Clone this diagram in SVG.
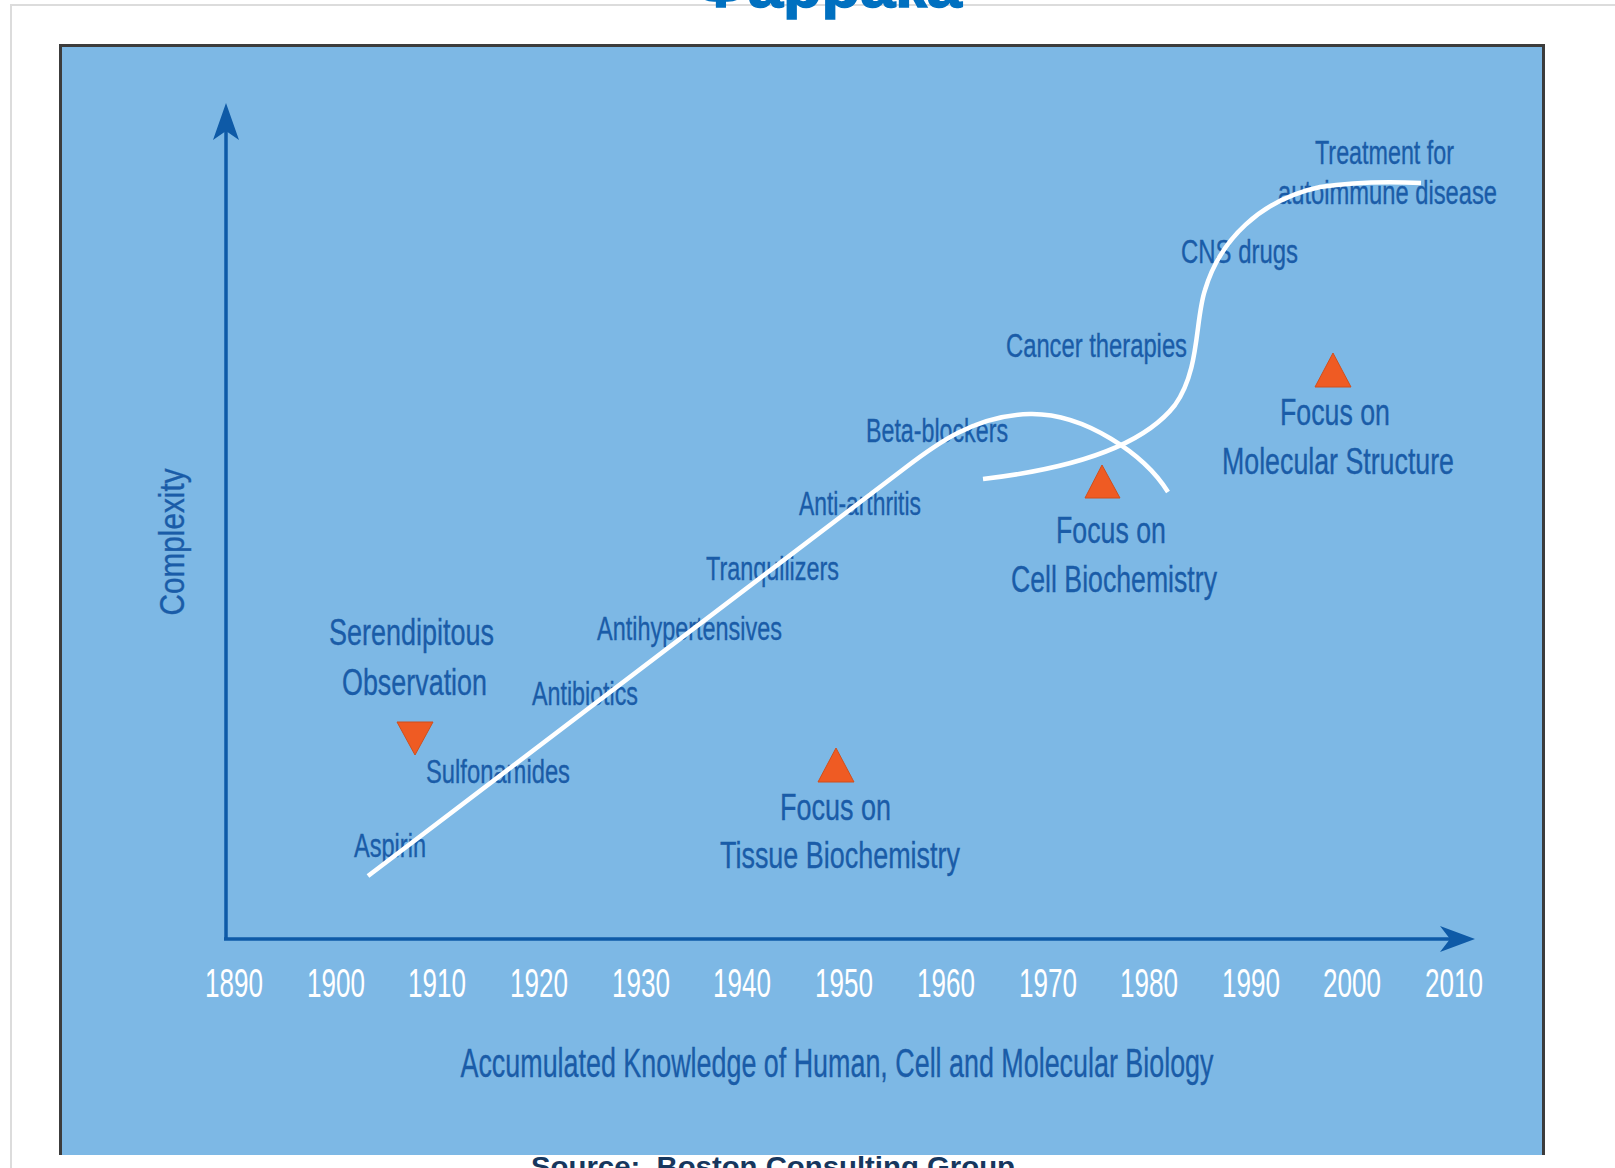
<svg xmlns="http://www.w3.org/2000/svg" width="1615" height="1168" viewBox="0 0 1615 1168">
  <style>
    .lbl { font-family: "Liberation Sans", Arial, sans-serif; fill: #1A5CA8; stroke: #1A5CA8; stroke-width: 0.35; }
    .sm { font-size: 33px; }
    .lg { font-size: 37px; }
    .yr { font-family: "Liberation Sans", Arial, sans-serif; font-size: 40px; fill: #FFFFFF; text-anchor: middle; }
    .axis { stroke: #0E5AA7; stroke-width: 3.5; fill: none; }
    .head { fill: #0E5AA7; }
    .tri { fill: #EF5B23; stroke: #D04F1D; stroke-width: 1; }
    .curve { stroke: #FFFFFF; stroke-width: 4.5; fill: none; stroke-linecap: butt; }
  </style>

  <!-- page -->
  <rect x="0" y="0" width="1615" height="1168" fill="#FFFFFF"/>
  <path d="M11,1168 V5 H1615" fill="none" stroke="#DCDCDC" stroke-width="2"/>

  <!-- heading, clipped by the top edge -->
  <text x="694" y="7" font-family="Liberation Sans, Arial, sans-serif" font-weight="bold" font-size="60" fill="#0070C0" stroke="#0070C0" stroke-width="1.5" textLength="268" lengthAdjust="spacingAndGlyphs">Фаррака</text>

  <!-- chart panel -->
  <rect x="59" y="44" width="1486" height="1111" fill="#7DB8E5"/>
  <path d="M60.5,1155 V45.5 H1543.5 V1155" fill="none" stroke="#3C3C3C" stroke-width="3"/>

  <!-- axes -->
  <g id="axes">
    <path class="axis" d="M226,939 V128"/>
    <path class="head" d="M226,103 L239,140 L226,131 L213,140 Z"/>
    <path class="axis" d="M224,939 H1452"/>
    <path class="head" d="M1475,939 L1440,952 L1450,939 L1440,926 Z"/>
    <text class="lbl" font-size="35" transform="translate(184,542) rotate(-90)" text-anchor="middle" textLength="147" lengthAdjust="spacingAndGlyphs">Complexity</text>
    <text class="lbl" x="837" y="1077" font-size="40" text-anchor="middle" textLength="753" lengthAdjust="spacingAndGlyphs">Accumulated Knowledge of Human, Cell and Molecular Biology</text>
  </g>

  <!-- year scale -->
  <g id="years">
    <text class="yr" x="234" y="997" textLength="58" lengthAdjust="spacingAndGlyphs">1890</text>
    <text class="yr" x="336" y="997" textLength="58" lengthAdjust="spacingAndGlyphs">1900</text>
    <text class="yr" x="437" y="997" textLength="58" lengthAdjust="spacingAndGlyphs">1910</text>
    <text class="yr" x="539" y="997" textLength="58" lengthAdjust="spacingAndGlyphs">1920</text>
    <text class="yr" x="641" y="997" textLength="58" lengthAdjust="spacingAndGlyphs">1930</text>
    <text class="yr" x="742" y="997" textLength="58" lengthAdjust="spacingAndGlyphs">1940</text>
    <text class="yr" x="844" y="997" textLength="58" lengthAdjust="spacingAndGlyphs">1950</text>
    <text class="yr" x="946" y="997" textLength="58" lengthAdjust="spacingAndGlyphs">1960</text>
    <text class="yr" x="1048" y="997" textLength="58" lengthAdjust="spacingAndGlyphs">1970</text>
    <text class="yr" x="1149" y="997" textLength="58" lengthAdjust="spacingAndGlyphs">1980</text>
    <text class="yr" x="1251" y="997" textLength="58" lengthAdjust="spacingAndGlyphs">1990</text>
    <text class="yr" x="1352" y="997" textLength="58" lengthAdjust="spacingAndGlyphs">2000</text>
    <text class="yr" x="1454" y="997" textLength="58" lengthAdjust="spacingAndGlyphs">2010</text>
  </g>

  <!-- drug classes along the curve -->
  <g id="aspirin"><text class="lbl sm" x="354" y="857" textLength="72" lengthAdjust="spacingAndGlyphs">Aspirin</text></g>
  <g id="sulfonamides"><text class="lbl sm" x="426" y="783" textLength="144" lengthAdjust="spacingAndGlyphs">Sulfonamides</text></g>
  <g id="antibiotics"><text class="lbl sm" x="532" y="705" textLength="106" lengthAdjust="spacingAndGlyphs">Antibiotics</text></g>
  <g id="antihypertensives"><text class="lbl sm" x="597" y="640" textLength="185" lengthAdjust="spacingAndGlyphs">Antihypertensives</text></g>
  <g id="tranquilizers"><text class="lbl sm" x="706" y="580" textLength="133" lengthAdjust="spacingAndGlyphs">Tranquilizers</text></g>
  <g id="anti-arthritis"><text class="lbl sm" x="799" y="515" textLength="122" lengthAdjust="spacingAndGlyphs">Anti-arthritis</text></g>
  <g id="beta-blockers"><text class="lbl sm" x="866" y="442" textLength="142" lengthAdjust="spacingAndGlyphs">Beta-blockers</text></g>
  <g id="cancer-therapies"><text class="lbl sm" x="1006" y="357" textLength="181" lengthAdjust="spacingAndGlyphs">Cancer therapies</text></g>
  <g id="cns-drugs"><text class="lbl sm" x="1181" y="263" textLength="117" lengthAdjust="spacingAndGlyphs">CNS drugs</text></g>
  <g id="autoimmune">
    <text class="lbl sm" x="1315" y="164" textLength="139" lengthAdjust="spacingAndGlyphs">Treatment for</text>
    <text class="lbl sm" x="1278" y="204" textLength="219" lengthAdjust="spacingAndGlyphs">autoimmune disease</text>
  </g>

  <!-- research eras -->
  <g id="serendipitous">
    <text class="lbl lg" x="329" y="645" textLength="165" lengthAdjust="spacingAndGlyphs">Serendipitous</text>
    <text class="lbl lg" x="342" y="695" textLength="145" lengthAdjust="spacingAndGlyphs">Observation</text>
    <path class="tri" d="M397,722 L433,722 L415,755 Z"/>
  </g>
  <g id="tissue">
    <path class="tri" d="M836,748 L854,782 L818,782 Z"/>
    <text class="lbl lg" x="780" y="820" textLength="111" lengthAdjust="spacingAndGlyphs">Focus on</text>
    <text class="lbl lg" x="720" y="868" textLength="240" lengthAdjust="spacingAndGlyphs">Tissue Biochemistry</text>
  </g>
  <g id="cell">
    <path class="tri" d="M1102,465 L1120,498 L1085,498 Z"/>
    <text class="lbl lg" x="1056" y="543" textLength="110" lengthAdjust="spacingAndGlyphs">Focus on</text>
    <text class="lbl lg" x="1011" y="592" textLength="206" lengthAdjust="spacingAndGlyphs">Cell Biochemistry</text>
  </g>
  <g id="molecular">
    <path class="tri" d="M1333,353 L1351,387 L1315,387 Z"/>
    <text class="lbl lg" x="1280" y="425" textLength="110" lengthAdjust="spacingAndGlyphs">Focus on</text>
    <text class="lbl lg" x="1222" y="474" textLength="232" lengthAdjust="spacingAndGlyphs">Molecular Structure</text>
  </g>

  <!-- progress curves -->
  <g id="connectors">
    <path class="curve" d="M368,876 L905,468 C935,445 975,415 1030,414 C1085,413 1145,455 1168,492"/>
    <path class="curve" d="M983,479 C1060,470 1140,450 1175,405 C1200,370 1195,320 1205,290 C1220,240 1260,200 1320,187 C1360,181 1400,182 1421,183"/>
  </g>

  <!-- credit line, clipped by the bottom edge -->
  <text x="531" y="1176" xml:space="preserve" font-family="Liberation Sans, Arial, sans-serif" font-weight="bold" font-size="28" fill="#17375E" textLength="484" lengthAdjust="spacingAndGlyphs">Source:  Boston Consulting Group</text>
</svg>
